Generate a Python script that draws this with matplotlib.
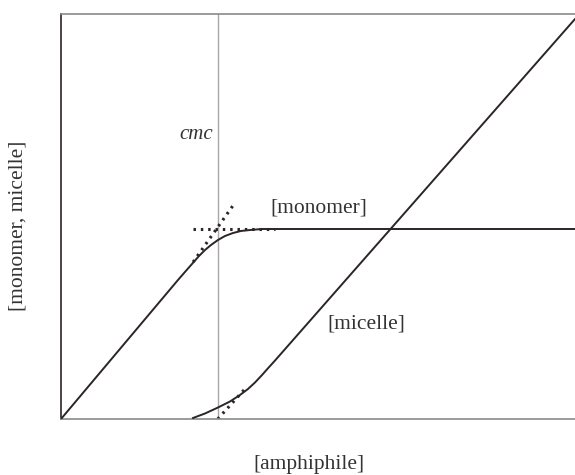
import matplotlib.pyplot as plt

plt.rcParams['font.family'] = ['Liberation Serif', 'DejaVu Serif']

# concentration units: x = total amphiphile, y = species concentration
cmc = 3.05

# [monomer]: linear rise, bend near the cmc, then plateau
monomer_x = [0.0, 2.276, 2.451, 2.568, 2.685, 2.802, 2.918, 3.054, 3.191,
             3.346, 3.502, 3.677, 3.911, 10.0]
monomer_y = [0.0, 2.746, 2.950, 3.085, 3.220, 3.338, 3.437, 3.536, 3.615,
             3.674, 3.714, 3.733, 3.753, 3.753]

# [micelle]: appears around the cmc, then grows linearly
micelle_x = [2.568, 2.802, 3.054, 3.288, 3.482, 3.638, 3.774, 3.911, 4.027,
             4.163, 10.0]
micelle_y = [0.020, 0.109, 0.227, 0.346, 0.474, 0.593, 0.721, 0.869, 1.002,
             1.154, 7.901]

# dotted construction lines (limiting tangents)
tan_mono_x = [2.57, 3.37]
tan_mono_y = [3.10, 4.25]
plateau_x = [2.57, 4.16]
plateau_y = [3.753, 3.753]
tan_mic_x = [3.05, 3.62]
tan_mic_y = [0.00, 0.64]

line_col = '#2b2428'
text_col = '#333333'

fig = plt.figure(figsize=(5.75, 4.75), dpi=100)
ax = fig.add_axes([61 / 575, 56 / 475, 514 / 575, 405 / 475])
ax.set_xlim(0, 10)
ax.set_ylim(0, 8)

ax.axvline(cmc, color='#a8a8a8', lw=1.0, zorder=1)

dots = dict(color=line_col, lw=2.2, linestyle=(0, (0.8, 1.6)), zorder=2)
ax.plot(tan_mono_x, tan_mono_y, **dots)
ax.plot(plateau_x, plateau_y, **dots)
ax.plot(tan_mic_x, tan_mic_y, **dots)

ax.plot(monomer_x, monomer_y, color=line_col, lw=1.4, zorder=3)
ax.plot(micelle_x, micelle_y, color=line_col, lw=1.4, zorder=3)

ax.text(2.96, 5.61, 'cmc', style='italic', fontsize=15, color=text_col,
        ha='right', va='center')
ax.text(4.07, 4.17, '[monomer]', fontsize=15.5, color=text_col,
        ha='left', va='center')
ax.text(5.19, 1.88, '[micelle]', fontsize=15.5, color=text_col,
        ha='left', va='center')

fig.text(308.5 / 575, 1 - 464 / 475, '[amphiphile]', fontsize=15.5,
         color=text_col, ha='center', va='center')
fig.text(18.5 / 575, 1 - 226 / 475, '[monomer, micelle]', fontsize=15.5,
         color=text_col, ha='center', va='center', rotation=90)

ax.set_xticks([])
ax.set_yticks([])
ax.spines['right'].set_visible(False)
ax.spines['left'].set_color('#2b2428')
ax.spines['top'].set_color('#8a8a8a')
ax.spines['bottom'].set_color('#8a8a8a')
for s in ax.spines.values():
    s.set_linewidth(1.2)

fig.savefig('out.png', dpi=100)
